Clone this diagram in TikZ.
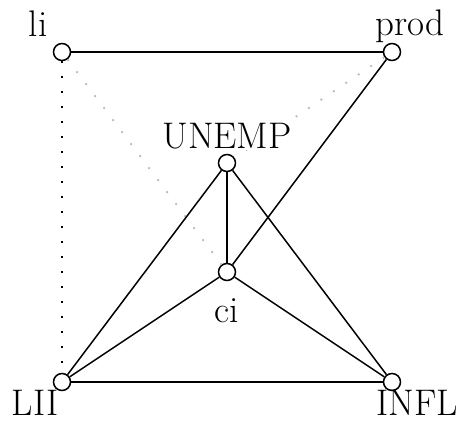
\documentclass[tikz,border=0pt]{standalone}
\begin{document}
\begin{tikzpicture}[x=1pt,y=-1pt,
  vtx/.style={circle,draw,line width=1.5pt,fill=white,minimum size=17pt,inner sep=0pt},
  lab/.style={font=\fontsize{37}{43}\selectfont,inner sep=0pt},
  edge/.style={line width=1.5pt},
  blackdots/.style={line width=1.8pt,dash pattern=on 1.8pt off 13.2pt},
  graydots/.style={line width=1.8pt,gray!55,dash pattern=on 1.8pt off 13.2pt}]
\useasboundingbox (0,0) rectangle (463,423);
\node[vtx] (li) at (62,52) {};
\node[vtx] (prod) at (392,52) {};
\node[vtx] (unemp) at (227,163) {};
\node[vtx] (ci) at (227,272) {};
\node[vtx] (lii) at (62,382) {};
\node[vtx] (infl) at (392,382) {};
\draw[blackdots] (li) -- (lii);
\draw[graydots] (li) -- (ci);
\draw[graydots] (prod) -- (unemp);
\draw[edge] (li) -- (prod);
\draw[edge] (prod) -- (ci);
\draw[edge] (unemp) -- (ci);
\draw[edge] (unemp) -- (lii);
\draw[edge] (unemp) -- (infl);
\draw[edge] (ci) -- (lii);
\draw[edge] (ci) -- (infl);
\draw[edge] (lii) -- (infl);
\node[lab] (lli) at (38,24) {li};
\node[lab] (lprod) at (410,26) {prod};
\node[lab,fill=white,inner sep=1pt] (lunemp) at (227,136) {UNEMP};
\node[lab] (lci) at (227,311) {ci};
\node[lab] (llii) at (35,403) {LII};
\node[lab] (linfl) at (417,403) {INFL};
\end{tikzpicture}
\end{document}
